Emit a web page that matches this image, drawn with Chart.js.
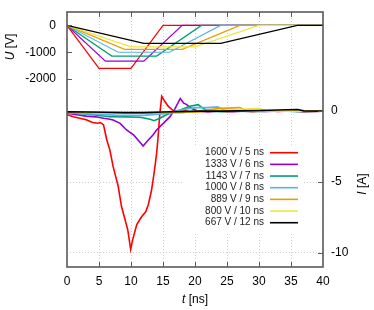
<!DOCTYPE html>
<html>
<head>
<meta charset="utf-8">
<script src="https://cdn.jsdelivr.net/npm/chart.js@4"></script>
<style>
html, body { margin: 0; padding: 0; background: #fff; }
canvas { display: block; }
</style>
</head>
<body>
<canvas id="chart" width="374" height="310"></canvas>
<script>
// Series names and colours (gnuplot-like palette)
const seriesLabels = ['1600 V / 5 ns', '1333 V / 6 ns', '1143 V / 7 ns', '1000 V / 8 ns', '889 V / 9 ns', '800 V / 10 ns', '667 V / 12 ns'];
const seriesColors = ['#ff0000', '#9400d3', '#009e73', '#56b4e9', '#e69f00', '#f0e442', '#000000'];

// Applied voltage pulses: corner times [ns] and levels [V]
const voltTimes = [
    [0, 5, 10, 15, 40],
    [0, 6, 12, 18, 40],
    [0, 7, 14, 21, 40],
    [0, 8, 16, 24, 40],
    [0, 9, 18, 27, 40],
    [0, 10, 20, 30, 40],
    [0, 12, 24, 36, 40]
];
const voltValues = [
    [0, -1600, -1600, 0, 0],
    [0, -1333, -1333, 0, 0],
    [0, -1143, -1143, 0, 0],
    [0, -1000, -1000, 0, 0],
    [0, -889, -889, 0, 0],
    [0, -800, -800, 0, 0],
    [0, -667, -667, 0, 0]
];

const curTimes = [
    [0, 1, 2, 3, 4, 4.8, 5.2, 5.7, 6.2, 6.7, 7.2, 7.6, 8.0, 8.5, 8.95, 9.5, 9.95, 10.25, 10.9, 11.65, 12.3, 12.7, 13.2, 13.6, 14.0, 14.2, 14.5, 14.8, 15.2, 15.8, 16.6, 17.5, 18.5, 19.5, 21, 23, 25, 27, 29, 31, 33, 35, 37, 40],
    [0, 1.5, 3, 4.5, 5.7, 6.5, 7.2, 8.3, 9.3, 10.4, 11.1, 11.9, 12.7, 13.4, 14.0, 15.05, 16.1, 16.9, 17.7, 18.2, 18.7, 19.5, 20.5, 22, 24, 26, 28, 31, 34, 37, 40],
    [0, 3, 6.7, 9.3, 11.4, 13.0, 13.6, 14.5, 15.05, 16.1, 16.6, 17.7, 19.2, 20.5, 21.3, 22.3, 24, 27, 30, 33, 36, 40],
    [0, 4, 8, 12, 16, 18, 20, 22, 23.5, 24.5, 25.5, 28, 32, 36, 40],
    [0, 5, 9, 14, 18, 21, 24, 27, 28, 30, 34, 40],
    [0, 5, 10, 15, 20, 24, 28, 30, 31, 34, 40],
    [0, 3, 6, 9, 12, 15, 18, 21, 24, 27, 30, 33, 36, 37, 40]
];
const curValues = [
    [-0.25, -0.4, -0.5, -0.6, -0.8, -0.85, -0.8, -0.95, -2.0, -2.75, -3.9, -4.6, -5.3, -6.7, -7.45, -8.4, -9.75, -9.1, -8.0, -7.45, -7.1, -6.6, -5.6, -4.4, -3.0, -2.0, -0.2, 1.05, 0.75, 0.35, 0.03, -0.05, 0.02, -0.08, -0.02, 0.03, -0.04, 0.02, -0.03, 0.03, -0.02, 0.02, -0.03, 0],
    [-0.15, -0.25, -0.35, -0.4, -0.5, -0.55, -0.62, -0.86, -1.33, -1.68, -2.03, -2.46, -2.03, -1.7, -1.33, -0.86, -0.39, 0.2, 0.9, 0.58, 0.46, 0.18, 0.0, -0.05, 0.02, -0.03, 0.02, -0.02, 0.02, -0.02, 0],
    [-0.1, -0.2, -0.39, -0.4, -0.43, -0.57, -0.67, -0.5, -0.36, -0.15, -0.06, 0.09, 0.35, 0.46, 0.18, 0.0, -0.03, 0.02, -0.02, 0.02, -0.02, 0],
    [-0.1, -0.2, -0.3, -0.3, -0.15, 0.1, 0.25, 0.25, 0.3, 0.1, 0.0, -0.02, 0.02, -0.02, 0],
    [-0.05, -0.1, -0.15, -0.12, -0.1, 0.05, 0.2, 0.25, 0.05, 0.0, 0.02, 0],
    [-0.05, -0.08, -0.1, -0.08, -0.05, 0.05, 0.15, 0.2, 0.05, 0.0, 0],
    [-0.05, -0.06, -0.08, -0.1, -0.1, -0.06, -0.03, 0.0, 0.0, 0.02, 0.05, 0.08, 0.12, 0.02, 0]
];

// Axis ranges and tick labels
const tRange = [0, 40];
const tTicks = [0, 5, 10, 15, 20, 25, 30, 35, 40];
const uRange = [-9000, 500];
const uTicks = [0, -1000, -2000];
const iRange = [-11, 7];
const iTicks = [0, -5, -10];

const FONT = "'Liberation Sans', Arial, Helvetica, sans-serif";

function toPoints(ts, vs) {
    return ts.map((t, k) => ({ x: t, y: vs[k] }));
}

const datasets = [];
seriesLabels.forEach((label, i) => {
    datasets.push({
        label: label,
        data: toPoints(voltTimes[i], voltValues[i]),
        yAxisID: 'u',
        borderColor: seriesColors[i],
        borderWidth: 1.2,
        pointRadius: 0,
        tension: 0,
        order: seriesLabels.length - i
    });
    datasets.push({
        label: label,
        data: toPoints(curTimes[i], curValues[i]),
        yAxisID: 'i',
        borderColor: seriesColors[i],
        borderWidth: 1.6,
        pointRadius: 0,
        tension: 0,
        order: seriesLabels.length - i
    });
});

// legend box with text on the left and line sample on the right
const legendPlugin = {
    id: 'sideLegend',
    afterDatasetsDraw(chart) {
        const ctx = chart.ctx;
        const area = chart.chartArea;
        const lineEnd = area.right - 25;
        const lineStart = lineEnd - 28;
        const textRight = lineStart - 6;
        const top = 152.7;
        const step = 11.67;
        ctx.save();
        ctx.fillStyle = '#fff';
        ctx.fillRect(area.right - 141, top - 7, 121, seriesLabels.length * step + 6);
        ctx.font = '10px ' + FONT;
        ctx.textAlign = 'right';
        ctx.textBaseline = 'middle';
        seriesLabels.forEach((label, i) => {
            const y = top + i * step;
            ctx.fillStyle = '#222';
            ctx.fillText(label, textRight, y);
            ctx.strokeStyle = seriesColors[i];
            ctx.lineWidth = 1.6;
            ctx.beginPath();
            ctx.moveTo(lineStart, y);
            ctx.lineTo(lineEnd, y);
            ctx.stroke();
        });
        ctx.restore();
    }
};

function drawTitle(ctx, x, y, rot, italicPart, rest) {
    ctx.save();
    ctx.translate(x, y);
    ctx.rotate(rot);
    ctx.textBaseline = 'middle';
    ctx.textAlign = 'left';
    ctx.font = 'italic 12px ' + FONT;
    const w1 = ctx.measureText(italicPart).width;
    ctx.font = '12px ' + FONT;
    const w2 = ctx.measureText(rest).width;
    const start = -(w1 + w2) / 2;
    ctx.fillStyle = '#000';
    ctx.font = 'italic 12px ' + FONT;
    ctx.fillText(italicPart, start, 0);
    ctx.font = '12px ' + FONT;
    ctx.fillText(rest, start + w1, 0);
    ctx.restore();
}

// frame, inward tick marks and axis titles
const framePlugin = {
    id: 'frame',
    afterDraw(chart) {
        const ctx = chart.ctx;
        const a = chart.chartArea;
        const xs = chart.scales.x, us = chart.scales.u, is = chart.scales.i;
        ctx.save();
        ctx.strokeStyle = '#5a5a5a';
        ctx.lineWidth = 1;
        ctx.beginPath();
        tTicks.slice(1, -1).forEach(t => {
            const px = Math.round(xs.getPixelForValue(t)) + 0.5;
            ctx.moveTo(px, a.bottom); ctx.lineTo(px, a.bottom - 5);
            ctx.moveTo(px, a.top); ctx.lineTo(px, a.top + 5);
        });
        uTicks.forEach(v => {
            const py = Math.round(us.getPixelForValue(v)) + 0.5;
            ctx.moveTo(a.left, py); ctx.lineTo(a.left + 5, py);
        });
        iTicks.forEach(v => {
            const py = Math.round(is.getPixelForValue(v)) + 0.5;
            ctx.moveTo(a.right, py); ctx.lineTo(a.right - 5, py);
        });
        ctx.stroke();
        ctx.lineWidth = 1.6;
        ctx.strokeRect(a.left, a.top, a.right - a.left, a.bottom - a.top);
        ctx.restore();

        drawTitle(ctx, 11, 47, -Math.PI / 2, 'U', ' [V]');
        drawTitle(ctx, 363, 184, -Math.PI / 2, 'I', ' [A]');
        drawTitle(ctx, (a.left + a.right) / 2, 300, 0, 't', ' [ns]');
    }
};

const plainLabel = v => String(v);

// fixed axis box sizes so the plot frame lands where the reference has it
function fixVertical(width) {
    return s => {
        s.width = width;
        s.paddingTop = 0;
        s.paddingBottom = 0;
    };
}

new Chart(document.getElementById('chart'), {
    type: 'line',
    data: { datasets: datasets },
    options: {
        responsive: false,
        animation: false,
        layout: { padding: { top: 12, left: 0, right: 0, bottom: 0 } },
        plugins: {
            legend: { display: false },
            tooltip: { enabled: false }
        },
        scales: {
            x: {
                type: 'linear',
                position: 'bottom',
                min: tRange[0],
                max: tRange[1],
                afterBuildTicks: s => { s.ticks = tTicks.map(v => ({ value: v })); },
                afterFit: s => { s.height = 43; },
                ticks: { color: '#000', font: { family: FONT, size: 12 }, padding: 7, maxRotation: 0, callback: plainLabel },
                grid: { color: '#cfcfcf', lineWidth: 1, drawTicks: false },
                border: { display: false, dash: [1, 2] }
            },
            u: {
                type: 'linear',
                position: 'left',
                min: uRange[0],
                max: uRange[1],
                afterBuildTicks: s => { s.ticks = uTicks.map(v => ({ value: v })); },
                afterFit: fixVertical(67),
                ticks: { color: '#000', font: { family: FONT, size: 12 }, padding: 11, callback: plainLabel },
                grid: { display: false, drawTicks: false },
                border: { display: false }
            },
            i: {
                type: 'linear',
                position: 'right',
                min: iRange[0],
                max: iRange[1],
                afterBuildTicks: s => { s.ticks = iTicks.map(v => ({ value: v })); },
                afterFit: fixVertical(51),
                ticks: { color: '#000', font: { family: FONT, size: 12 }, padding: 8, callback: plainLabel },
                grid: { color: '#cfcfcf', lineWidth: 1, drawTicks: false },
                border: { display: false, dash: [1, 2] }
            }
        }
    },
    plugins: [legendPlugin, framePlugin]
});
</script>
</body>
</html>
